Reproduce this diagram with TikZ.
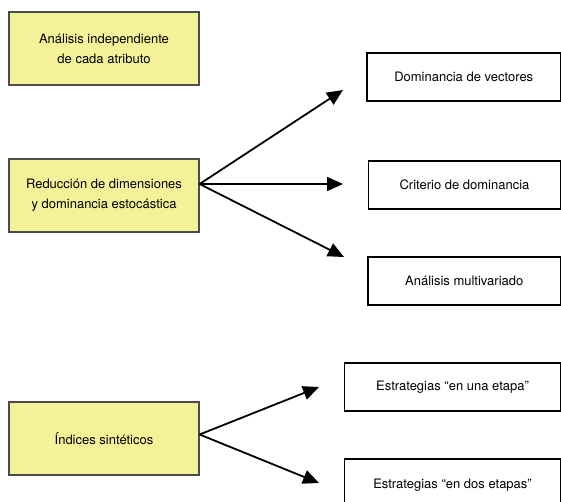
\documentclass[tikz,border=0pt]{standalone}
\usepackage{fontspec}
\setmainfont{TeX Gyre Heros}
\usetikzlibrary{arrows.meta, positioning}
\tikzset{>={Triangle[length=16pt, width=14pt]}}
\definecolor{boxyellow}{RGB}{243,242,152}

\begin{document}
\begin{tikzpicture}[x=1pt, y=-1pt,
  font=\fontsize{13}{20}\selectfont,
  yellowbox/.style={draw=black!70, line width=1.2pt, fill=boxyellow, minimum width=190pt, minimum height=73pt, align=center, inner sep=0pt},
  whitebox/.style={draw=black, line width=1.2pt, fill=white, minimum height=48pt, align=center, inner sep=0pt},
  arrow/.style={->, line width=1.8pt}]

\useasboundingbox (0,0) rectangle (561,502);
\clip (0,0) rectangle (561,502);

% Left column
\node[yellowbox] (indep) at (104,48.5) {Análisis independiente\\de cada atributo};
\node[yellowbox] (reduc) at (104,195.5) {Reducción de dimensiones\\y dominancia estocástica};
\node[yellowbox] (indices) at (104,438.5) {Índices sintéticos};

% Right column
\node[whitebox, minimum width=193.5pt] (vect) at (463.75,77) {Dominancia de vectores};
\node[whitebox, minimum width=192pt] (crit) at (464.5,185) {Criterio de dominancia};
\node[whitebox, minimum width=192.5pt] (multi) at (464.25,281) {Análisis multivariado};
\node[whitebox, minimum width=216pt] (una) at (452.5,387) {Estrategias “en una etapa”};
\node[whitebox, minimum width=216pt, minimum height=52pt] (dos) at (452.5,485) {Estrategias “en dos etapas”};

% Arrow ends
\coordinate (reduc-out) at ([yshift=11.5pt]reduc.east);
\coordinate (indices-out) at ([yshift=4pt]indices.east);
\coordinate (vect-in) at (343,90);
\coordinate (crit-in) at (343,184);
\coordinate (multi-in) at (344,257);
\coordinate (una-in) at (319,387);
\coordinate (dos-in) at (319,483);

% Arrows
\draw[arrow] (reduc-out) -- (vect-in);
\draw[arrow] (reduc-out) -- (crit-in);
\draw[arrow] (reduc-out) -- (multi-in);
\draw[arrow] (indices-out) -- (una-in);
\draw[arrow] (indices-out) -- (dos-in);

\end{tikzpicture}
\end{document}
